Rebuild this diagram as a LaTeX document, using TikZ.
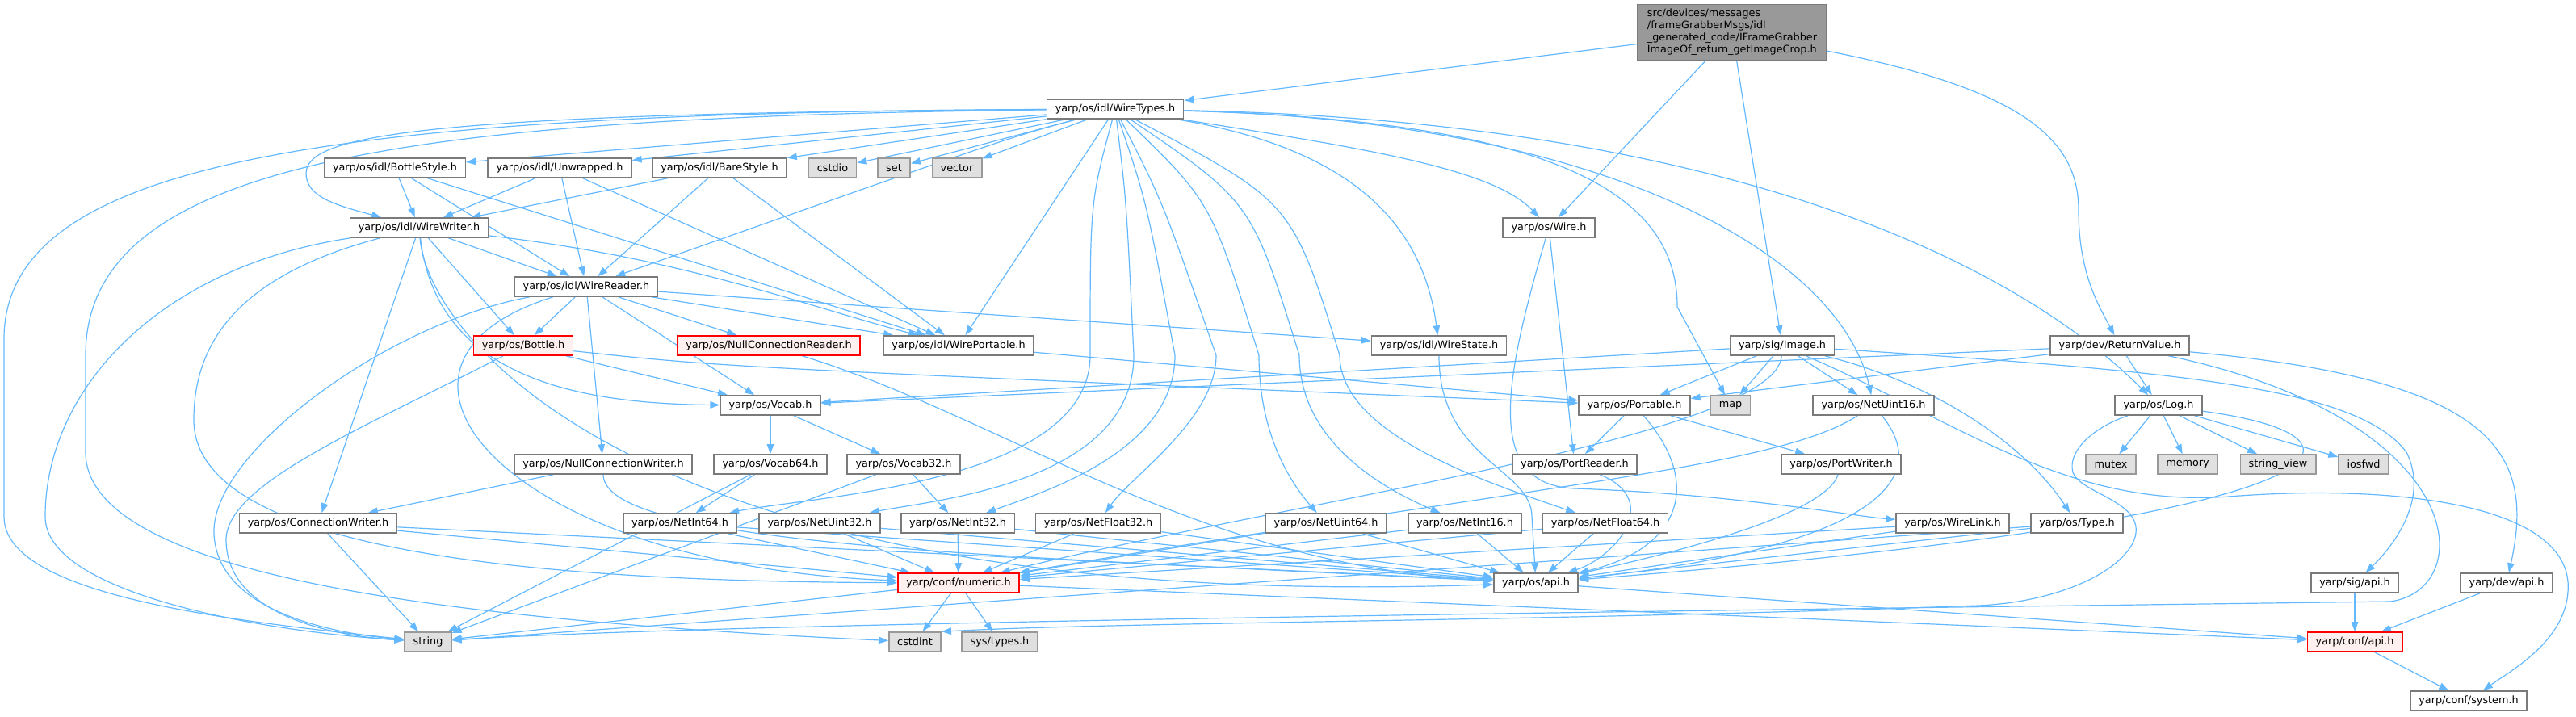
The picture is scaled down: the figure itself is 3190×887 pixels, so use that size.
\documentclass[tikz,border=0pt]{standalone}
\usepackage{fontspec}
\setmainfont{DejaVu Sans}
\usetikzlibrary{arrows.meta}
\definecolor{edgeblue}{HTML}{63B8FF}
\definecolor{boxline}{HTML}{7A7A7A}
\definecolor{sysline}{HTML}{999999}
\definecolor{sysfill}{HTML}{E0E0E0}
\definecolor{cutfill}{HTML}{FFF0F0}
\definecolor{rootfill}{HTML}{999999}
\newcommand\hdrsize{\fontsize{12.8pt}{15pt}\selectfont}
\pgfdeclarelayer{edges}
\pgfsetlayers{edges,main}
\begin{document}
\begin{tikzpicture}[x=1pt, y=-1pt,
		hdr/.style={draw=boxline, fill=white, line width=1.6pt, inner xsep=10.4pt, inner ysep=0pt, minimum height=24pt, font=\hdrsize},
		sys/.style={hdr, draw=sysline, fill=sysfill},
		cut/.style={hdr, draw=red, fill=cutfill},
		dep/.style={draw=edgeblue, line width=1.2pt, -{Triangle[length=12pt, width=8.5pt]}}]
		\useasboundingbox (0,0) rectangle (3190,887);
		% rows of headers
		\node[hdr, fill=rootfill, align=left, minimum width=234pt, minimum height=69pt, inner xsep=12pt] (root) at (2145,40) {src/devices/messages\\/frameGrabberMsgs/idl\\\_generated\_code/IFrameGrabber\\ImageOf\_return\_getImageCrop.h};
		\node[hdr] (types) at (1381,135) {yarp/os/idl/WireTypes.h};
		\node[hdr] (bstyle) at (489,208) {yarp/os/idl/BottleStyle.h};
		\node[hdr] (unwr) at (693,208) {yarp/os/idl/Unwrapped.h};
		\node[hdr] (barest) at (891,208) {yarp/os/idl/BareStyle.h};
		\node[sys] (cstdio) at (1031,208) {cstdio};
		\node[sys] (setx) at (1107,208) {set};
		\node[sys] (vector) at (1185,208) {vector};
		\node[hdr] (wwriter) at (519,282) {yarp/os/idl/WireWriter.h};
		\node[hdr] (wire) at (1918,282) {yarp/os/Wire.h};
		\node[hdr] (wreader) at (726,355) {yarp/os/idl/WireReader.h};
		\node[cut] (bottle) at (648,428) {yarp/os/Bottle.h};
		\node[cut] (ncreader) at (952,428) {yarp/os/NullConnectionReader.h};
		\node[hdr] (wportable) at (1187,428) {yarp/os/idl/WirePortable.h};
		\node[hdr] (wstate) at (1782,428) {yarp/os/idl/WireState.h};
		\node[hdr] (image) at (2207,428) {yarp/sig/Image.h};
		\node[hdr] (retval) at (2625,428) {yarp/dev/ReturnValue.h};
		\node[hdr] (vocab) at (954,502) {yarp/os/Vocab.h};
		\node[hdr] (portable) at (2024,502) {yarp/os/Portable.h};
		\node[sys] (map) at (2143,502) {map};
		\node[hdr] (netu16) at (2320,502) {yarp/os/NetUint16.h};
		\node[hdr] (log) at (2673,502) {yarp/os/Log.h};
		\node[hdr] (ncwriter) at (747,575) {yarp/os/NullConnectionWriter.h};
		\node[hdr] (vocab64) at (954,575) {yarp/os/Vocab64.h};
		\node[hdr] (vocab32) at (1119,575) {yarp/os/Vocab32.h};
		\node[hdr] (preader) at (1950,575) {yarp/os/PortReader.h};
		\node[hdr] (pwriter) at (2280,575) {yarp/os/PortWriter.h};
		\node[sys] (mutex) at (2614,575) {mutex};
		\node[sys] (memory) at (2709,575) {memory};
		\node[sys] (strview) at (2821,575) {string\_view};
		\node[sys] (iosfwd) at (2927,575) {iosfwd};
		\node[hdr] (cwriter) at (394,648) {yarp/os/ConnectionWriter.h};
		\node[hdr] (neti64) at (842,648) {yarp/os/NetInt64.h};
		\node[hdr] (netu32) at (1015,648) {yarp/os/NetUint32.h};
		\node[hdr] (neti32) at (1186,648) {yarp/os/NetInt32.h};
		\node[hdr] (netf32) at (1360,648) {yarp/os/NetFloat32.h};
		\node[hdr] (netu64) at (1642,648) {yarp/os/NetUint64.h};
		\node[hdr] (neti16) at (1814,648) {yarp/os/NetInt16.h};
		\node[hdr] (netf64) at (1988,648) {yarp/os/NetFloat64.h};
		\node[hdr] (wlink) at (2418,648) {yarp/os/WireLink.h};
		\node[hdr] (type) at (2572,648) {yarp/os/Type.h};
		\node[cut] (numeric) at (1187,722) {yarp/conf/numeric.h};
		\node[hdr] (osapi) at (1902,722) {yarp/os/api.h};
		\node[hdr] (sigapi) at (2916,722) {yarp/sig/api.h};
		\node[hdr] (devapi) at (3104,722) {yarp/dev/api.h};
		\node[sys] (string) at (530,795) {string};
		\node[sys] (cstdint) at (1133,795) {cstdint};
		\node[sys] (systypes) at (1238,795) {sys/types.h};
		\node[cut] (confapi) at (2916,795) {yarp/conf/api.h};
		\node[hdr] (system) at (3057,868) {yarp/conf/system.h};
		\begin{pgfonlayer}{edges}
		% from the generated header
		\draw[dep] (root) -- (types);
		\draw[dep] (root) -- (wire);
		\draw[dep] (root) -- (image);
		\draw[dep] (root) .. controls (2500,110) and (2574,170) .. (2574,260) .. controls (2574,340) and (2600,380) .. (retval);
		% WireTypes.h
		\draw[dep] (types) .. controls (400,140) and (5,200) .. (5,420) -- (5,640) .. controls (5,740) and (300,770) .. (string);
		\draw[dep] (types) .. controls (500,145) and (106,200) .. (106,440) -- (106,560) .. controls (106,720) and (600,770) .. (cstdint);
		\draw[dep] (types) .. controls (500,140) and (379,170) .. (379,215) .. controls (379,245) and (420,255) .. (wwriter);
		\draw[dep] (types) -- (bstyle);
		\draw[dep] (types) -- (unwr);
		\draw[dep] (types) -- (barest);
		\draw[dep] (types) -- (cstdio);
		\draw[dep] (types) -- (setx);
		\draw[dep] (types) -- (vector);
		\draw[dep] (types) .. controls (1250,170) .. (wreader);
		\draw[dep] (types) -- (wportable);
		\draw[dep] (types) .. controls (1350,250) .. (1350,440) .. controls (1350,600) and (1000,615) .. (neti64);
		\draw[dep] (types) .. controls (1395,250) .. (1404,440) .. controls (1404,600) and (1150,620) .. (netu32);
		\draw[dep] (types) .. controls (1420,250) .. (1455,440) .. controls (1455,560) and (1290,610) .. (neti32);
		\draw[dep] (types) .. controls (1440,250) .. (1506,440) .. controls (1506,520) and (1400,590) .. (netf32);
		\draw[dep] (types) .. controls (1500,250) .. (1559,440) .. controls (1559,540) and (1600,600) .. (netu64);
		\draw[dep] (types) .. controls (1550,250) .. (1609,440) .. controls (1609,540) and (1700,600) .. (neti16);
		\draw[dep] (types) .. controls (1600,250) .. (1659,440) .. controls (1659,540) and (1850,600) .. (netf64);
		\draw[dep] (types) .. controls (1650,180) and (1760,260) .. (wstate);
		\draw[dep] (types) .. controls (1700,185) and (1850,210) .. (wire);
		\draw[dep] (types) .. controls (1950,150) and (2077,250) .. (2077,380) -- (map);
		\draw[dep] (types) .. controls (2000,150) and (2280,320) .. (netu16);
		\draw[dep] (types) .. controls (2150,150) and (2500,330) .. (log);
		% idl styles
		\draw[dep] (bstyle) -- (wwriter);
		\draw[dep] (bstyle) -- (wreader);
		\draw[dep] (bstyle) -- (wportable);
		\draw[dep] (unwr) -- (wwriter);
		\draw[dep] (unwr) -- (wreader);
		\draw[dep] (unwr) -- (wportable);
		\draw[dep] (barest) -- (wwriter);
		\draw[dep] (barest) -- (wreader);
		\draw[dep] (barest) -- (wportable);
		% WireWriter.h
		\draw[dep] (wwriter) -- (wreader);
		\draw[dep] (wwriter) -- (bottle);
		\draw[dep] (wwriter) .. controls (850,320) and (1000,380) .. (wportable);
		\draw[dep] (wwriter) -- (cwriter);
		\draw[dep] (wwriter) .. controls (540,460) and (700,500) .. (vocab);
		\draw[dep] (wwriter) .. controls (200,330) and (56,480) .. (56,640) .. controls (56,730) and (300,780) .. (string);
		\draw[dep] (wwriter) .. controls (300,340) and (240,420) .. (240,520) .. controls (240,690) and (700,720) .. (numeric);
		\draw[dep] (wwriter) .. controls (530,420) and (800,760) .. (osapi);
		% WireReader.h
		\draw[dep] (wreader) -- (bottle);
		\draw[dep] (wreader) -- (ncreader);
		\draw[dep] (wreader) -- (ncwriter);
		\draw[dep] (wreader) -- (vocab);
		\draw[dep] (wreader) -- (wportable);
		\draw[dep] (wreader) -- (wstate);
		\draw[dep] (wreader) .. controls (480,400) and (262,560) .. (265,660) .. controls (268,760) and (420,785) .. (string);
		\draw[dep] (wreader) .. controls (420,450) and (620,700) .. (numeric);
		% Bottle.h and the other idl parts
		\draw[dep] (bottle) -- (vocab);
		\draw[dep] (bottle) .. controls (900,455) .. (portable);
		\draw[dep] (bottle) .. controls (450,530) and (278,600) .. (280,670) .. controls (282,765) and (420,788) .. (string);
		\draw[dep] (ncreader) .. controls (1250,520) and (1480,700) .. (osapi);
		\draw[dep] (wportable) -- (portable);
		\draw[dep] (wstate) .. controls (1782,570) and (1897,580) .. (1897,640) -- (osapi);
		\draw[dep] (wire) -- (preader);
		\draw[dep] (wire) .. controls (1860,480) and (1840,600) .. (1950,605) .. controls (2150,612) and (2300,640) .. (wlink);
		% Image.h
		\draw[dep] (image) -- (portable);
		\draw[dep] (image) -- (map);
		\draw[dep] (image) -- (netu16);
		\draw[dep] (image) -- (vocab);
		\draw[dep] (image) .. controls (2200,540) and (1600,620) .. (numeric);
		\draw[dep] (image) .. controls (2380,470) and (2500,540) .. (type);
		\draw[dep] (image) .. controls (2700,460) and (2920,480) .. (2980,560) .. controls (3010,620) and (2960,680) .. (sigapi);
		\draw[dep] (image) .. controls (2420,520) and (2560,630) .. (2760,615) .. controls (2950,600) and (3170,620) .. (3180,720) .. controls (3185,790) and (3110,830) .. (system);
		% ReturnValue.h
		\draw[dep] (retval) -- (portable);
		\draw[dep] (retval) -- (vocab);
		\draw[dep] (retval) -- (log);
		\draw[dep] (retval) .. controls (3090,470) and (3140,560) .. (devapi);
		\draw[dep] (retval) .. controls (3060,520) and (3070,730) .. (2960,745) .. controls (2200,755) and (900,770) .. (string);
		% Log.h
		\draw[dep] (log) -- (mutex);
		\draw[dep] (log) -- (memory);
		\draw[dep] (log) -- (strview);
		\draw[dep] (log) -- (iosfwd);
		\draw[dep] (log) .. controls (2960,540) and (2950,640) .. (osapi);
		\draw[dep] (log) .. controls (2590,530) and (2560,560) .. (2567,585) .. controls (2575,610) and (2650,620) .. (2645,660) .. controls (2640,700) and (2560,745) .. (2450,750) .. controls (1900,770) and (1400,770) .. (cstdint.north east);
		% middle rows
		\draw[dep] (vocab) -- (vocab64);
		\draw[dep] (vocab) -- (vocab32);
		\draw[dep] (portable) -- (preader);
		\draw[dep] (portable) -- (pwriter);
		\draw[dep] (portable) .. controls (2110,600) and (2080,680) .. (osapi);
		\draw[dep] (netu16) .. controls (2200,580) and (1900,600) .. (numeric);
		\draw[dep] (netu16) .. controls (2400,600) and (2300,680) .. (osapi);
		\draw[dep] (ncwriter) -- (cwriter);
		\draw[dep] (ncwriter) .. controls (747,680) and (1300,690) .. (osapi);
		\draw[dep] (vocab64) -- (string);
		\draw[dep] (vocab64) -- (neti64);
		\draw[dep] (vocab32) -- (string);
		\draw[dep] (vocab32) -- (neti32);
		\draw[dep] (preader) .. controls (2060,620) and (2000,690) .. (osapi);
		\draw[dep] (pwriter) .. controls (2260,640) and (2050,690) .. (osapi);
		\draw[dep] (cwriter) -- (string);
		\draw[dep] (cwriter) -- (numeric);
		\draw[dep] (cwriter) -- (osapi);
		% net types
		\draw[dep] (neti64) -- (numeric);
		\draw[dep] (neti64) -- (osapi);
		\draw[dep] (netu32) -- (numeric);
		\draw[dep] (netu32) -- (osapi);
		\draw[dep] (neti32) -- (numeric);
		\draw[dep] (neti32) -- (osapi);
		\draw[dep] (netf32) -- (numeric);
		\draw[dep] (netf32) -- (osapi);
		\draw[dep] (netu64) -- (numeric);
		\draw[dep] (netu64) -- (osapi);
		\draw[dep] (neti16) -- (numeric);
		\draw[dep] (neti16) -- (osapi);
		\draw[dep] (netf64) -- (numeric);
		\draw[dep] (netf64) -- (osapi);
		\draw[dep] (wlink) -- (osapi);
		\draw[dep] (wlink) -- (numeric);
		\draw[dep] (type) -- (osapi);
		\draw[dep] (type) -- (string);
		% bottom rows
		\draw[dep] (numeric) -- (cstdint);
		\draw[dep] (numeric) -- (systypes);
		\draw[dep] (numeric) -- (string);
		\draw[dep] (numeric) -- (confapi);
		\draw[dep] (osapi) -- (confapi);
		\draw[dep] (sigapi) -- (confapi);
		\draw[dep] (devapi) -- (confapi);
		\draw[dep] (confapi) -- (system);
		\end{pgfonlayer}
	\end{tikzpicture}
\end{document}
